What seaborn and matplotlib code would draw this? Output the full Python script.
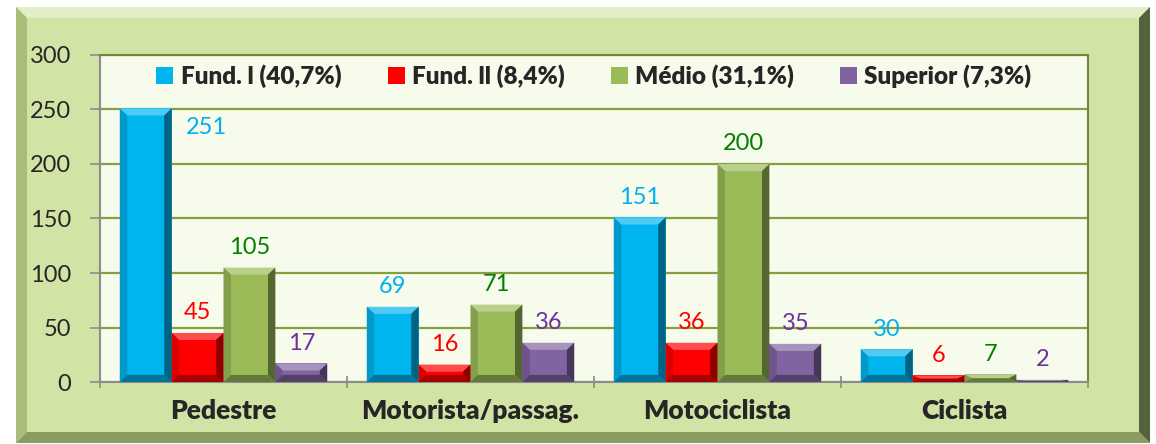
import numpy as np
import pandas as pd
import seaborn as sns
import matplotlib.pyplot as plt
from matplotlib.patches import Rectangle, Polygon
from matplotlib.colors import to_rgb

# data
categories = ['Pedestre', 'Motorista/passag.', 'Motociclista', 'Ciclista']
series = ['Fund. l (40,7%)', 'Fund. ll (8,4%)', 'Médio (31,1%)', 'Superior (7,3%)']
fund1 = [251, 69, 151, 30]
fund2 = [45, 16, 36, 6]
medio = [105, 71, 200, 7]
superior = [17, 36, 35, 2]

bar_colors = ['#00B4EE', '#FF0000', '#9BBB59', '#8064A2']
label_colors = ['#00B0F0', '#FF0000', '#008000', '#7030A0']

rows = []
for s, vals in zip(series, [fund1, fund2, medio, superior]):
    for c, v in zip(categories, vals):
        rows.append({'categoria': c, 'escolaridade': s, 'valor': v})
df = pd.DataFrame(rows)

sns.set_style('white')
plt.rcParams['font.family'] = ['Lato', 'DejaVu Sans']

fig = plt.figure(figsize=(11.56, 4.44), dpi=100, facecolor='white')

# outer chart frame with a bevel look
W, H = 1156, 444
def fx(px):
    return px / W
def fy(py):
    return 1 - py / H

x0, x1, y0, y1 = 16, 1150, 7, 443
b = 11
frame = Rectangle((fx(x0), fy(y1)), fx(x1) - fx(x0), fy(y0) - fy(y1),
                  transform=fig.transFigure, facecolor='#D2E3A6', edgecolor='none', zorder=-10)
fig.patches.append(frame)
bevels = [
    ([(x0, y0), (x1, y0), (x1 - b, y0 + b), (x0 + b, y0 + b)], '#E4EEC6'),
    ([(x0, y0), (x0 + b, y0 + b), (x0 + b, y1 - b), (x0, y1)], '#A9BD7A'),
    ([(x1, y0), (x1, y1), (x1 - b, y1 - b), (x1 - b, y0 + b)], '#55633A'),
    ([(x0, y1), (x1, y1), (x1 - b, y1 - b), (x0 + b, y1 - b)], '#8A9C62'),
]
for pts, col in bevels:
    fig.patches.append(Polygon([(fx(a), fy(c)) for a, c in pts], closed=True,
                               transform=fig.transFigure, facecolor=col,
                               edgecolor='none', zorder=-9))

ax = fig.add_axes([100 / W, 1 - 382 / H, 988 / W, 327 / H])
ax.set_zorder(1)
ax.set_facecolor('#F7FBEC')

sns.barplot(data=df, x='categoria', y='valor', hue='escolaridade',
            order=categories, hue_order=series, palette=bar_colors,
            width=0.84, gap=0, saturation=1, ax=ax, zorder=3,
            edgecolor='none', linewidth=0)

ax.set_ylim(0, 300)
ax.set_xlim(-0.5, 3.5)
ax.set_yticks(range(0, 301, 50))
ax.yaxis.grid(True, color='#84A040', linewidth=1.6, zorder=0)
ax.set_axisbelow(True)
ax.set_xlabel('')
ax.set_ylabel('')

ax.tick_params(axis='y', labelsize=17, length=7, color='#8C8C8C', width=1.2,
               direction='out', left=True, pad=14)
ax.tick_params(axis='x', which='major', labelsize=19, length=0, pad=12)
ax.set_xticks([-0.5, 0.5, 1.5, 2.5, 3.5], minor=True)
ax.tick_params(axis='x', which='minor', length=8, color='#8C8C8C', width=1.2,
               direction='inout', bottom=True)
for lab in ax.get_xticklabels():
    lab.set_fontweight('heavy')

for side in ['left', 'bottom']:
    ax.spines[side].set_color('#8C8C8C')
    ax.spines[side].set_linewidth(1.5)
for side in ['top', 'right']:
    ax.spines[side].set_color('#6F8A36')
    ax.spines[side].set_linewidth(1.5)


def shade(col, f):
    r, g, b_ = to_rgb(col)
    if f >= 1:
        return tuple(c + (1 - c) * (f - 1) for c in (r, g, b_))
    return tuple(c * f for c in (r, g, b_))


# bevel on each bar and value labels
for i, cont in enumerate(ax.containers):
    col = bar_colors[i]
    for bar in cont:
        bx0 = bar.get_x()
        w = bar.get_width()
        h = bar.get_height()
        bx = 0.03
        by = min(6.5, h / 2)
        faces = [
            ([(bx0, h), (bx0 + w, h), (bx0 + w - bx, h - by), (bx0 + bx, h - by)], shade(col, 1.3)),
            ([(bx0, 0), (bx0 + bx, by), (bx0 + bx, h - by), (bx0, h)], shade(col, 0.85)),
            ([(bx0 + w, 0), (bx0 + w, h), (bx0 + w - bx, h - by), (bx0 + w - bx, by)], shade(col, 0.55)),
            ([(bx0, 0), (bx0 + w, 0), (bx0 + w - bx, by), (bx0 + bx, by)], shade(col, 0.65)),
        ]
        for pts, fc in faces:
            ax.add_patch(Polygon(pts, closed=True, facecolor=fc, edgecolor='none', zorder=4))

        cx = bx0 + w / 2
        if h > 240:
            ax.annotate(f'{h:.0f}', (bx0 + w, h), xytext=(25, -6), textcoords='offset points',
                        ha='center', va='top', fontsize=17, color=label_colors[i], zorder=6)
        else:
            ax.annotate(f'{h:.0f}', (cx, h), xytext=(0, 7), textcoords='offset points',
                        ha='center', va='bottom', fontsize=17, color=label_colors[i], zorder=6)

leg = ax.legend(loc='center', bbox_to_anchor=(0.5, 0.935), ncol=4, frameon=False,
                handlelength=0.7, handleheight=0.7, columnspacing=1.9,
                handletextpad=0.3, prop={'weight': 'heavy', 'size': 17.5})

plt.savefig('out.png', dpi=100, facecolor='white')
